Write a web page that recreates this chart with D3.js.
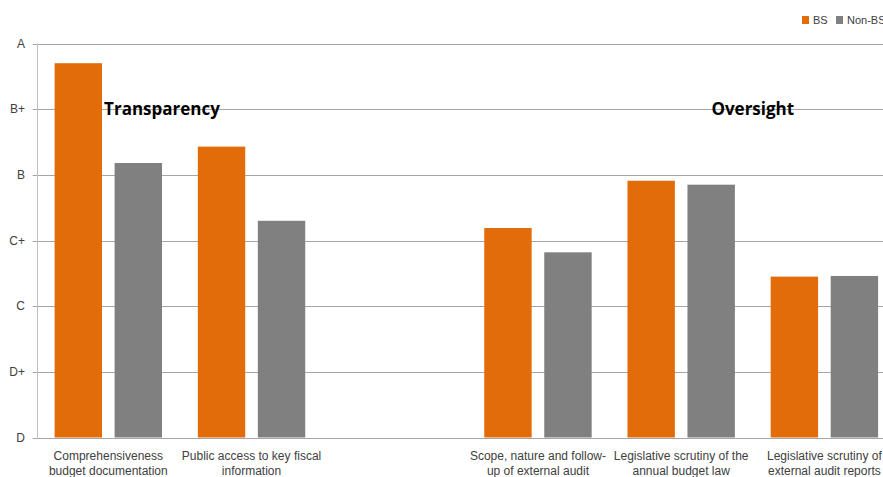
<!doctype html>
<html>
<head>
    <meta charset="utf-8">
    <title>PEFA scores: BS vs Non-BS</title>
    <style type="text/css">
        body { margin: 0; background: #fff; }
        svg { display: block; overflow: hidden; }
        text { font-family: "Liberation Sans", Arial, sans-serif; fill: #404040; }
        .grid line { stroke: #a6a6a6; stroke-width: 1; }
        .axis path, .axis line { stroke: #a6a6a6; }
        .title { font-family: "Open Sans", sans-serif; font-weight: bold; font-size: 17px; fill: #000; }
    </style>
</head>
<body>
<div id="chart"></div>

<script src="https://d3js.org/d3.v7.min.js"></script>
<script>

    // data (scores: D=0 ... A=6)
    var categories = [
        ["Comprehensiveness", "budget documentation"],
        ["Public access to key fiscal", "information"],
        [""],
        ["Scope, nature and follow-", "up of external audit"],
        ["Legislative scrutiny of the", "annual budget law"],
        ["Legislative scrutiny of", "external audit reports"]
    ];
    var seriesNames = ["BS", "Non-BS"];
    var bsValues    = [5.70, 4.43, null, 3.19, 3.91, 2.45];
    var nonBsValues = [4.18, 3.30, null, 2.82, 3.85, 2.46];
    var gradeLabels = ["D", "D+", "C", "C+", "B", "B+", "A"];
    var colors = ["#e36c0a", "#808080"];
    var groupTitles = ["Transparency", "Oversight"];

    var width = 883, height = 477;
    var plotLeft = 36.7, plotRight = 896, plotTop = 43.5, plotBottom = 437.5;

    var svg = d3.select("#chart").append("svg")
        .attr("width", width)
        .attr("height", height);

    var keys = categories.map(function (c, i) { return "c" + i; });

    var x0 = d3.scaleBand()
        .domain(keys)
        .range([plotLeft, plotRight])
        .paddingInner(0.25)
        .paddingOuter(0.125);

    var x1 = d3.scaleBand()
        .domain(seriesNames)
        .range([0, x0.bandwidth()])
        .paddingInner(0.21);

    var y = d3.scaleLinear()
        .domain([0, gradeLabels.length - 1])
        .range([plotBottom, plotTop]);

    // horizontal gridlines
    svg.append("g")
        .attr("class", "grid")
        .selectAll("line")
        .data(d3.range(gradeLabels.length))
        .enter().append("line")
        .attr("x1", plotLeft - 4)
        .attr("x2", plotRight)
        .attr("y1", function (d) { return Math.round(y(d)) + 0.5; })
        .attr("y2", function (d) { return Math.round(y(d)) + 0.5; });

    // y axis line
    svg.append("line")
        .attr("x1", Math.round(plotLeft) + 0.5)
        .attr("x2", Math.round(plotLeft) + 0.5)
        .attr("y1", y(gradeLabels.length - 1))
        .attr("y2", y(0))
        .attr("stroke", "#bfbfbf");

    // y labels
    svg.append("g")
        .selectAll("text")
        .data(gradeLabels)
        .enter().append("text")
        .attr("x", 25)
        .attr("y", function (d, i) { return y(i); })
        .attr("dy", "0.35em")
        .attr("text-anchor", "end")
        .style("font-size", "12px")
        .text(function (d) { return d; });

    // bars
    var rows = categories.map(function (c, i) {
        return { key: keys[i], values: [bsValues[i], nonBsValues[i]] };
    });

    var groups = svg.append("g")
        .selectAll("g")
        .data(rows)
        .enter().append("g")
        .attr("transform", function (d) { return "translate(" + x0(d.key) + ",0)"; });

    groups.selectAll("rect")
        .data(function (d) {
            return d.values.map(function (v, j) { return { name: seriesNames[j], value: v, color: colors[j] }; })
                .filter(function (e) { return e.value != null; });
        })
        .enter().append("rect")
        .attr("x", function (d) { return x1(d.name); })
        .attr("y", function (d) { return y(d.value); })
        .attr("width", x1.bandwidth())
        .attr("height", function (d) { return y(0) - y(d.value); })
        .attr("fill", function (d) { return d.color; });

    // category labels (two lines)
    var catText = svg.append("g")
        .selectAll("text")
        .data(categories)
        .enter().append("text")
        .attr("x", function (d, i) { return x0(keys[i]) + x0.bandwidth() / 2; })
        .attr("y", 460)
        .attr("text-anchor", "middle")
        .style("font-size", "12px");

    catText.selectAll("tspan")
        .data(function (d) { return d; })
        .enter().append("tspan")
        .attr("x", function () { return d3.select(this.parentNode).attr("x"); })
        .attr("dy", function (d, i) { return i === 0 ? 0 : 15; })
        .text(function (d) { return d; });

    // section titles
    svg.append("text")
        .attr("class", "title")
        .attr("x", x0(keys[0]) + x0.bandwidth())
        .attr("y", y(5))
        .attr("dy", "0.35em")
        .attr("text-anchor", "middle")
        .text(groupTitles[0]);

    svg.append("text")
        .attr("class", "title")
        .attr("x", (x0(keys[4]) + x0(keys[5]) + x0.bandwidth()) / 2)
        .attr("y", y(5))
        .attr("dy", "0.35em")
        .attr("text-anchor", "middle")
        .text(groupTitles[1]);

    // legend
    var legend = svg.append("g")
        .attr("transform", "translate(802,16)");

    var legendX = [0, 34];
    seriesNames.forEach(function (name, i) {
        legend.append("rect")
            .attr("x", legendX[i])
            .attr("y", 0)
            .attr("width", 7)
            .attr("height", 8)
            .attr("fill", colors[i]);
        legend.append("text")
            .attr("x", legendX[i] + 11)
            .attr("y", 4)
            .attr("dy", "0.35em")
            .style("font-size", "11px")
            .text(name);
    });
</script>
</body>
</html>
